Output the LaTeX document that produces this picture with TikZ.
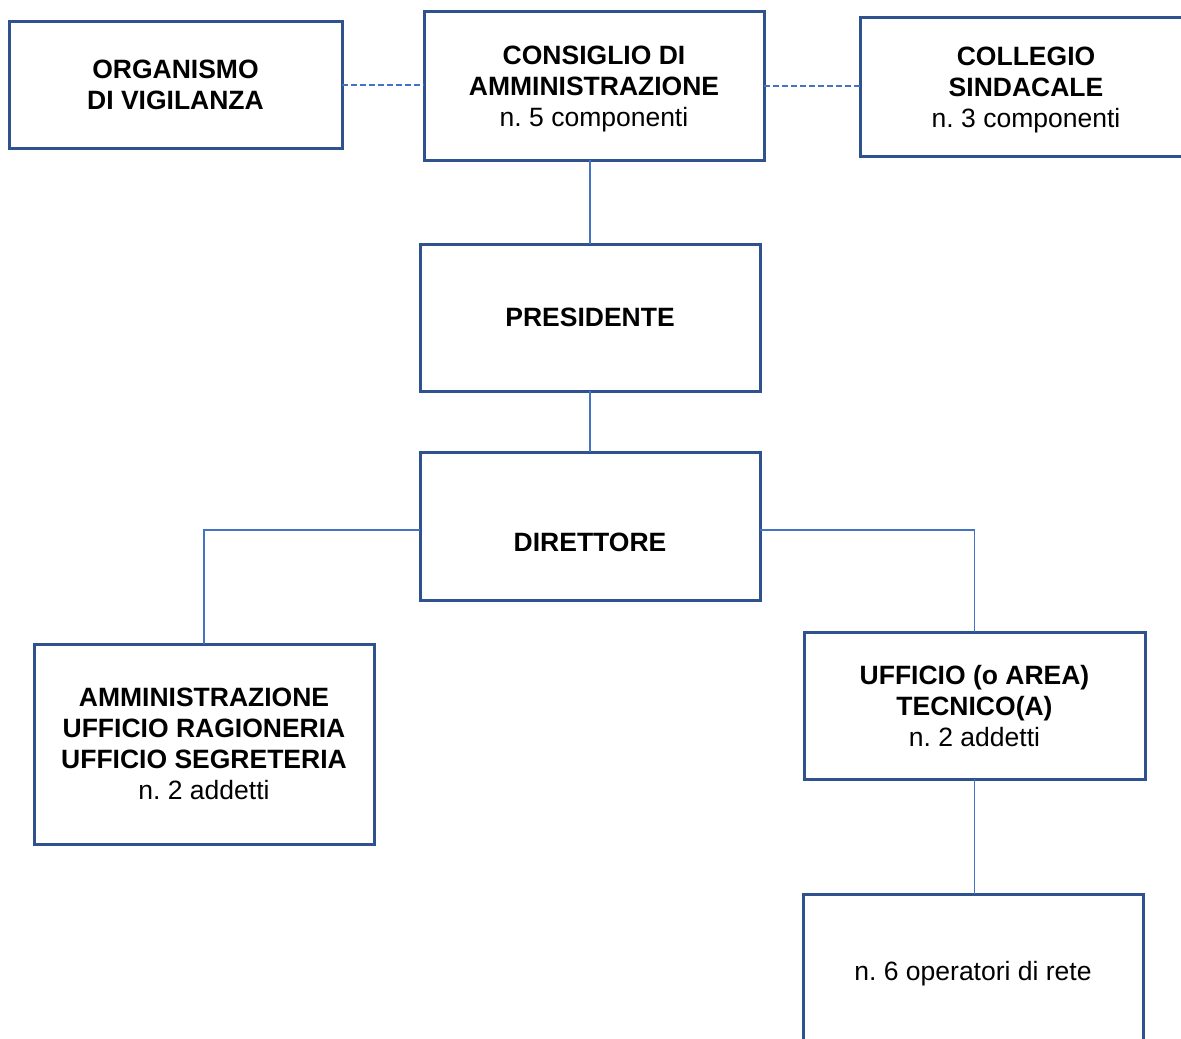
\documentclass[tikz,border=0pt]{standalone}
\usepackage{fontspec}
\setmainfont{Liberation Sans}
\usetikzlibrary{calc}
\definecolor{boxblue}{HTML}{2F528F}
\definecolor{lineblue}{HTML}{4472C4}
\tikzset{
  orgbox/.style={draw=boxblue, line width=1.5pt, fill=white, inner sep=0pt, outer sep=0pt,
    align=center, text depth=-1pt, font=\fontsize{13.25pt}{15.5pt}\selectfont\frenchspacing},
  conn/.style={draw=lineblue, line width=0.6pt},
  dconn/.style={draw=lineblue, line width=0.6pt, dash pattern=on 3pt off 1.5pt},
}
\begin{document}
\begin{tikzpicture}[x=0.5pt, y=-0.5pt]
\useasboundingbox (0,0) rectangle (1181,1038);
\clip (0,0) rectangle (1181,1038);
\fill[white] (0,0) rectangle (1181,1038);

\node[orgbox, minimum width=166.5pt, minimum height=63pt] (org) at (175.5,85)
  {\textbf{ORGANISMO}\\\textbf{DI VIGILANZA}};
\node[orgbox, minimum width=170pt, minimum height=74pt] (cda) at (594,86)
  {\textbf{CONSIGLIO DI}\\\textbf{AMMINISTRAZIONE}\\n. 5 componenti};
\node[orgbox, minimum width=166pt, minimum height=69pt] (cs) at (1026,87)
  {\textbf{COLLEGIO}\\\textbf{SINDACALE}\\n. 3 componenti};
\node[orgbox, minimum width=170pt, minimum height=73.5pt] (pres) at (590,317.5)
  {\textbf{PRESIDENTE}};
\node[orgbox, minimum width=170pt, minimum height=74pt,
  label={[font=\fontsize{13.25pt}{15.5pt}\selectfont\bfseries, yshift=-8pt]center:DIRETTORE}] (dir) at (590,526) {};
\node[orgbox, minimum width=170pt, minimum height=100pt] (amm) at (204,744)
  {\textbf{AMMINISTRAZIONE}\\\textbf{UFFICIO RAGIONERIA}\\\textbf{UFFICIO SEGRETERIA}\\n. 2 addetti};
\node[orgbox, minimum width=170.5pt, minimum height=73.5pt] (ut) at (974.5,705.5)
  {\textbf{UFFICIO (o AREA)}\\\textbf{TECNICO(A)}\\n. 2 addetti};
\node[orgbox, minimum width=170pt, minimum height=77pt] (op) at (973,971)
  {n. 6 operatori di rete};

\draw[dconn] (org.east) -- (org.east -| cda.west);
\draw[dconn] (cda.east) -- (cda.east -| cs.west);
\draw[conn] (pres.north |- cda.south) -- (pres.north);
\draw[conn] (pres.south) -- (dir.north);
\draw[conn] ([yshift=-2pt]dir.west) -| (amm.north);
\draw[conn] ([yshift=-2pt]dir.east) -| (ut.north);
\draw[conn] (ut.south) -- (ut.south |- op.north);
\end{tikzpicture}
\end{document}
